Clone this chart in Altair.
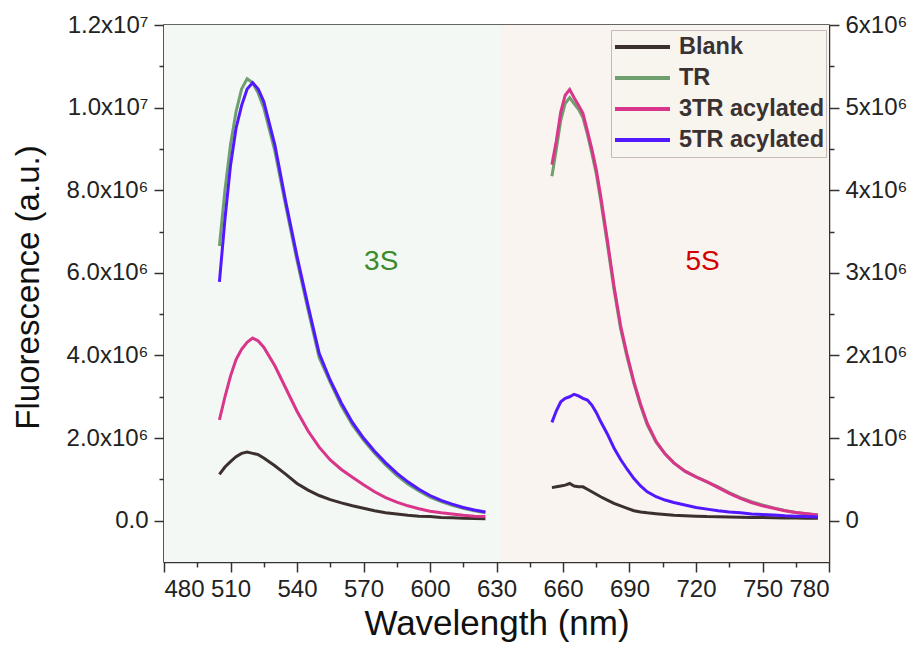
import altair as alt
import pandas as pd

series_names = ["Blank", "TR", "3TR acylated", "5TR acylated"]
series_colors = ["#3b302e", "#6f9f6f", "#d9358a", "#5218ff"]

# 3S region (left axis)
wl_3s = [505, 507.5, 510, 512.5, 515, 517.5, 520, 522.5, 525, 530, 535, 540, 545, 550,
         555, 560, 565, 570, 575, 580, 585, 590, 595, 600, 605, 610, 615, 620, 625]
blank_3s = [1.12, 1.30, 1.43, 1.55, 1.63, 1.66, 1.63, 1.60, 1.52, 1.33, 1.12, 0.90, 0.74, 0.61,
            0.51, 0.43, 0.36, 0.30, 0.24, 0.19, 0.16, 0.13, 0.11, 0.10, 0.08, 0.07, 0.06, 0.055, 0.05]
tr_3s = [6.65, 8.0, 9.1, 9.9, 10.45, 10.7, 10.6, 10.35, 10.0, 8.95, 7.6, 6.3, 5.1, 3.95,
         3.35, 2.78, 2.32, 1.95, 1.63, 1.35, 1.10, 0.89, 0.72, 0.57, 0.46, 0.37, 0.30, 0.24, 0.19]
tr3_3s = [2.44, 3.0, 3.5, 3.9, 4.15, 4.32, 4.42, 4.35, 4.2, 3.75, 3.2, 2.65, 2.17, 1.78,
          1.47, 1.24, 1.05, 0.87, 0.70, 0.56, 0.45, 0.36, 0.29, 0.23, 0.19, 0.16, 0.13, 0.11, 0.10]
tr5_3s = [5.78, 7.3, 8.6, 9.5, 10.05, 10.45, 10.6, 10.45, 10.15, 9.1, 7.7, 6.4, 5.2, 4.05,
          3.4, 2.85, 2.38, 2.0, 1.68, 1.4, 1.15, 0.94, 0.76, 0.61, 0.49, 0.40, 0.32, 0.26, 0.21]

# 5S region (right axis)
wl_5s = [655, 657, 659, 661, 663, 665, 667, 669, 671, 673, 675, 677, 680, 683, 686, 689, 692,
         695, 698, 702, 706, 710, 715, 720, 725, 730, 735, 740, 745, 750, 755, 760, 765, 770, 775]
blank_5s = [0.40, 0.41, 0.42, 0.43, 0.45, 0.42, 0.41, 0.41, 0.38, 0.35, 0.32, 0.29, 0.25, 0.21,
            0.18, 0.15, 0.12, 0.105, 0.095, 0.085, 0.075, 0.065, 0.06, 0.055, 0.05, 0.048, 0.045,
            0.042, 0.04, 0.038, 0.036, 0.034, 0.032, 0.03, 0.03]
tr_5s = [4.17, 4.5, 4.85, 5.05, 5.12, 5.05, 4.98, 4.88, 4.68, 4.45, 4.2, 3.88, 3.35, 2.8, 2.32,
         1.97, 1.66, 1.39, 1.16, 0.95, 0.81, 0.70, 0.60, 0.53, 0.47, 0.41, 0.34, 0.28, 0.23, 0.19,
         0.155, 0.125, 0.10, 0.085, 0.07]
tr3_5s = [4.31, 4.6, 4.95, 5.15, 5.22, 5.12, 5.03, 4.93, 4.72, 4.5, 4.25, 3.93, 3.4, 2.84, 2.36,
          2.0, 1.68, 1.41, 1.18, 0.96, 0.81, 0.70, 0.60, 0.53, 0.47, 0.40, 0.33, 0.27, 0.22, 0.18,
          0.15, 0.12, 0.10, 0.085, 0.07]
tr5_5s = [1.19, 1.33, 1.44, 1.48, 1.50, 1.53, 1.51, 1.48, 1.46, 1.40, 1.31, 1.20, 1.05, 0.88, 0.74,
          0.62, 0.51, 0.42, 0.35, 0.29, 0.25, 0.22, 0.19, 0.16, 0.14, 0.12, 0.105, 0.095, 0.08,
          0.075, 0.07, 0.06, 0.055, 0.05, 0.045]

bg_start = [480, 632]
bg_end = [632, 780]
bg_names = ["3S zone", "5S zone"]
bg_colors = ["#f3f8f4", "#f9f4ef"]

label_text = ["3S", "5S"]
label_wl = [578, 723]
label_val = [6.26e6, 6.26e6]
label_colors = ["#3b8a2a", "#d20000"]


def long_df(wl, cols):
    rows = []
    for name, vals in zip(series_names, cols):
        for w, v in zip(wl, vals):
            rows.append({"wl": w, "val": v * 1e6, "series": name})
    return pd.DataFrame(rows)


df3 = long_df(wl_3s, [blank_3s, tr_3s, tr3_3s, tr5_3s])
df5 = long_df(wl_5s, [blank_5s, tr_5s, tr3_5s, tr5_5s])
bg_df = pd.DataFrame({"start": bg_start, "end": bg_end, "zone": bg_names})
lab_df = pd.DataFrame({"text": label_text, "wl": label_wl, "val": label_val, "c": label_colors})

FONT = "Liberation Sans"

x_axis = alt.Axis(
    values=list(range(480, 781, 15)),
    labelExpr="datum.value % 30 != 0 ? '' : datum.value",
    tickSize={"condition": {"test": "datum.value % 30 != 0", "value": 5}, "value": 10},
    title="Wavelength (nm)",
    labelPadding=5,
    titlePadding=5,
    titleFontSize=35,
)
x_scale = alt.Scale(domain=[480, 780], nice=False, zero=False)
x_enc = alt.X("wl:Q", scale=x_scale, axis=x_axis)

color_enc = alt.Color(
    "series:N",
    scale=alt.Scale(domain=series_names, range=series_colors),
    legend=alt.Legend(
        orient="none", legendX=447, legendY=5, title=None,
        symbolType="stroke", symbolSize=3025, symbolStrokeWidth=4, clipHeight=30,
        labelFontSize=23.5, labelFontWeight="bold", labelFont=FONT, labelColor="#3a3232",
        fillColor="#f8f4ee", strokeColor="#c4baba", padding=2, rowPadding=1,
        labelOffset=7, labelLimit=400,
    ),
)

left_y = alt.Y(
    "val:Q",
    scale=alt.Scale(domain=[-1e6, 1.2e7], nice=False, zero=False),
    axis=alt.Axis(
        values=[i * 1000000 for i in range(0, 13)],
        labelExpr="datum.value % 2000000 != 0 ? '' : datum.value == 0 ? '0.0' : "
                  "datum.value < 10000000 ? format(datum.value/1000000, '.1f') + 'x10⁶' : "
                  "format(datum.value/10000000, '.1f') + 'x10⁷'",
        tickSize={"condition": {"test": "datum.value % 2000000 != 0", "value": 5}, "value": 10},
        title="Fluorescence (a.u.)",
        labelPadding=6,
        titleFontSize=33,
        titleX=-119,
        titleY=262,
        titleBaseline="bottom",
    ),
)

right_y = alt.Y(
    "val:Q",
    scale=alt.Scale(domain=[-0.5e6, 6e6], nice=False, zero=False),
    axis=alt.Axis(
        orient="right",
        values=[i * 500000 for i in range(0, 13)],
        labelExpr="datum.value % 1000000 != 0 ? '' : datum.value == 0 ? '0' : "
                  "format(datum.value/1000000, 'd') + 'x10⁶'",
        tickSize={"condition": {"test": "datum.value % 1000000 != 0", "value": 5}, "value": 10},
        title=None,
        labelPadding=6,
    ),
)

bg = alt.Chart(bg_df).mark_rect().encode(
    x=alt.X("start:Q", scale=x_scale, axis=x_axis),
    x2="end:Q",
    fill=alt.Fill("zone:N", scale=alt.Scale(domain=bg_names, range=bg_colors), legend=None),
)

lines3 = alt.Chart(df3).mark_line(strokeWidth=3).encode(
    x=x_enc, y=left_y, color=color_enc, order=alt.Order("wl:Q")
)

labels = alt.Chart(lab_df).mark_text(font=FONT, fontSize=28, align="center", baseline="middle").encode(
    x=alt.X("wl:Q", scale=x_scale, axis=x_axis),
    y=alt.Y("val:Q", scale=alt.Scale(domain=[-1e6, 1.2e7], nice=False, zero=False)),
    text="text:N",
    fill=alt.Fill("c:N", scale=None),
)

left = alt.layer(bg, lines3, labels)

right = alt.Chart(df5).mark_line(strokeWidth=3).encode(
    x=x_enc, y=right_y,
    color=alt.Color("series:N", scale=alt.Scale(domain=series_names, range=series_colors), legend=None),
    order=alt.Order("wl:Q"),
)

chart = alt.layer(left, right).resolve_scale(y="independent").properties(
    width=665, height=537,
    autosize=alt.AutoSizeParams(type="none"),
    padding={"left": 156, "top": 17, "right": 78, "bottom": 81},
).configure_view(
    stroke="#333333", strokeWidth=1.5
).configure_axis(
    grid=False, domainColor="#333333", domainWidth=1.5, tickColor="#333333", tickWidth=1.5,
    labelFont=FONT, labelFontSize=24, labelColor="#222222",
    titleFont=FONT, titleFontSize=32, titleFontWeight="normal", titleColor="#111111",
)

chart.save("out.html", embed_options={"renderer": "svg", "actions": False})
